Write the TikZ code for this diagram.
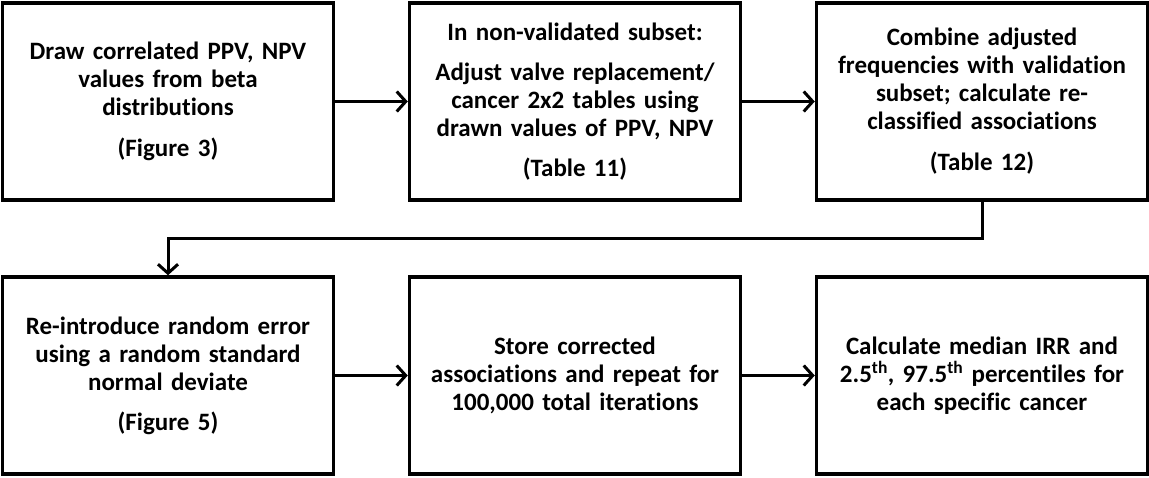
\documentclass[tikz,border=0pt]{standalone}
\usepackage{fontspec}
\setmainfont{Carlito}[WordSpace=0.75,Ligatures=NoCommon]
\usetikzlibrary{arrows.meta,calc}
\begin{document}
\begin{tikzpicture}[x=1pt,y=-1pt,
  stepbox/.style={draw=black, line width=3.5pt, fill=white,
    minimum width=331pt, minimum height=197pt, inner sep=0pt,
    text width=322pt, align=center,
    font=\fontsize{25}{28}\selectfont\bfseries},
  flow/.style={line width=3pt, -{Straight Barb[length=9pt,width=20pt,line width=3pt]}}
]
\useasboundingbox (0,0) rectangle (1149,477);
\node[stepbox] (b1) at (168,101.5) {Draw correlated PPV, NPV\\ values from beta\\ distributions\\[13pt] (Figure 3)};
\node[stepbox] (b2) at (575,101.5) {In non-validated subset:\\[12pt] Adjust valve replacement/\\ cancer 2x2 tables using\\ drawn values of PPV, NPV\\[12pt] (Table 11)};
\node[stepbox] (b3) at (982,101.5) {Combine adjusted\\ frequencies with validation\\ subset; calculate re-\\ classified associations\\[13pt] (Table 12)};
\node[stepbox] (b4) at (168,375.5) {Re-introduce random error\\ using a random standard\\ normal deviate\\[12pt] (Figure 5)};
\node[stepbox] (b5) at (575,375.5) {Store corrected\\ associations and repeat for\\ 100,000 total iterations};
\node[stepbox] (b6) at (982,375.5) {Calculate median IRR and\\ 2.5\textsuperscript{th}, 97.5\textsuperscript{th} percentiles for\\ each specific cancer};
\coordinate (turn) at ($(b3.south)!0.5!(b6.north)$);
\draw[flow] (b1.east) -- (b2.west);
\draw[flow] (b2.east) -- (b3.west);
\draw[flow] (b3.south) -- (b3.south |- turn) -| (b4.north);
\draw[flow] (b4.east) -- (b5.west);
\draw[flow] (b5.east) -- (b6.west);
\end{tikzpicture}
\end{document}
